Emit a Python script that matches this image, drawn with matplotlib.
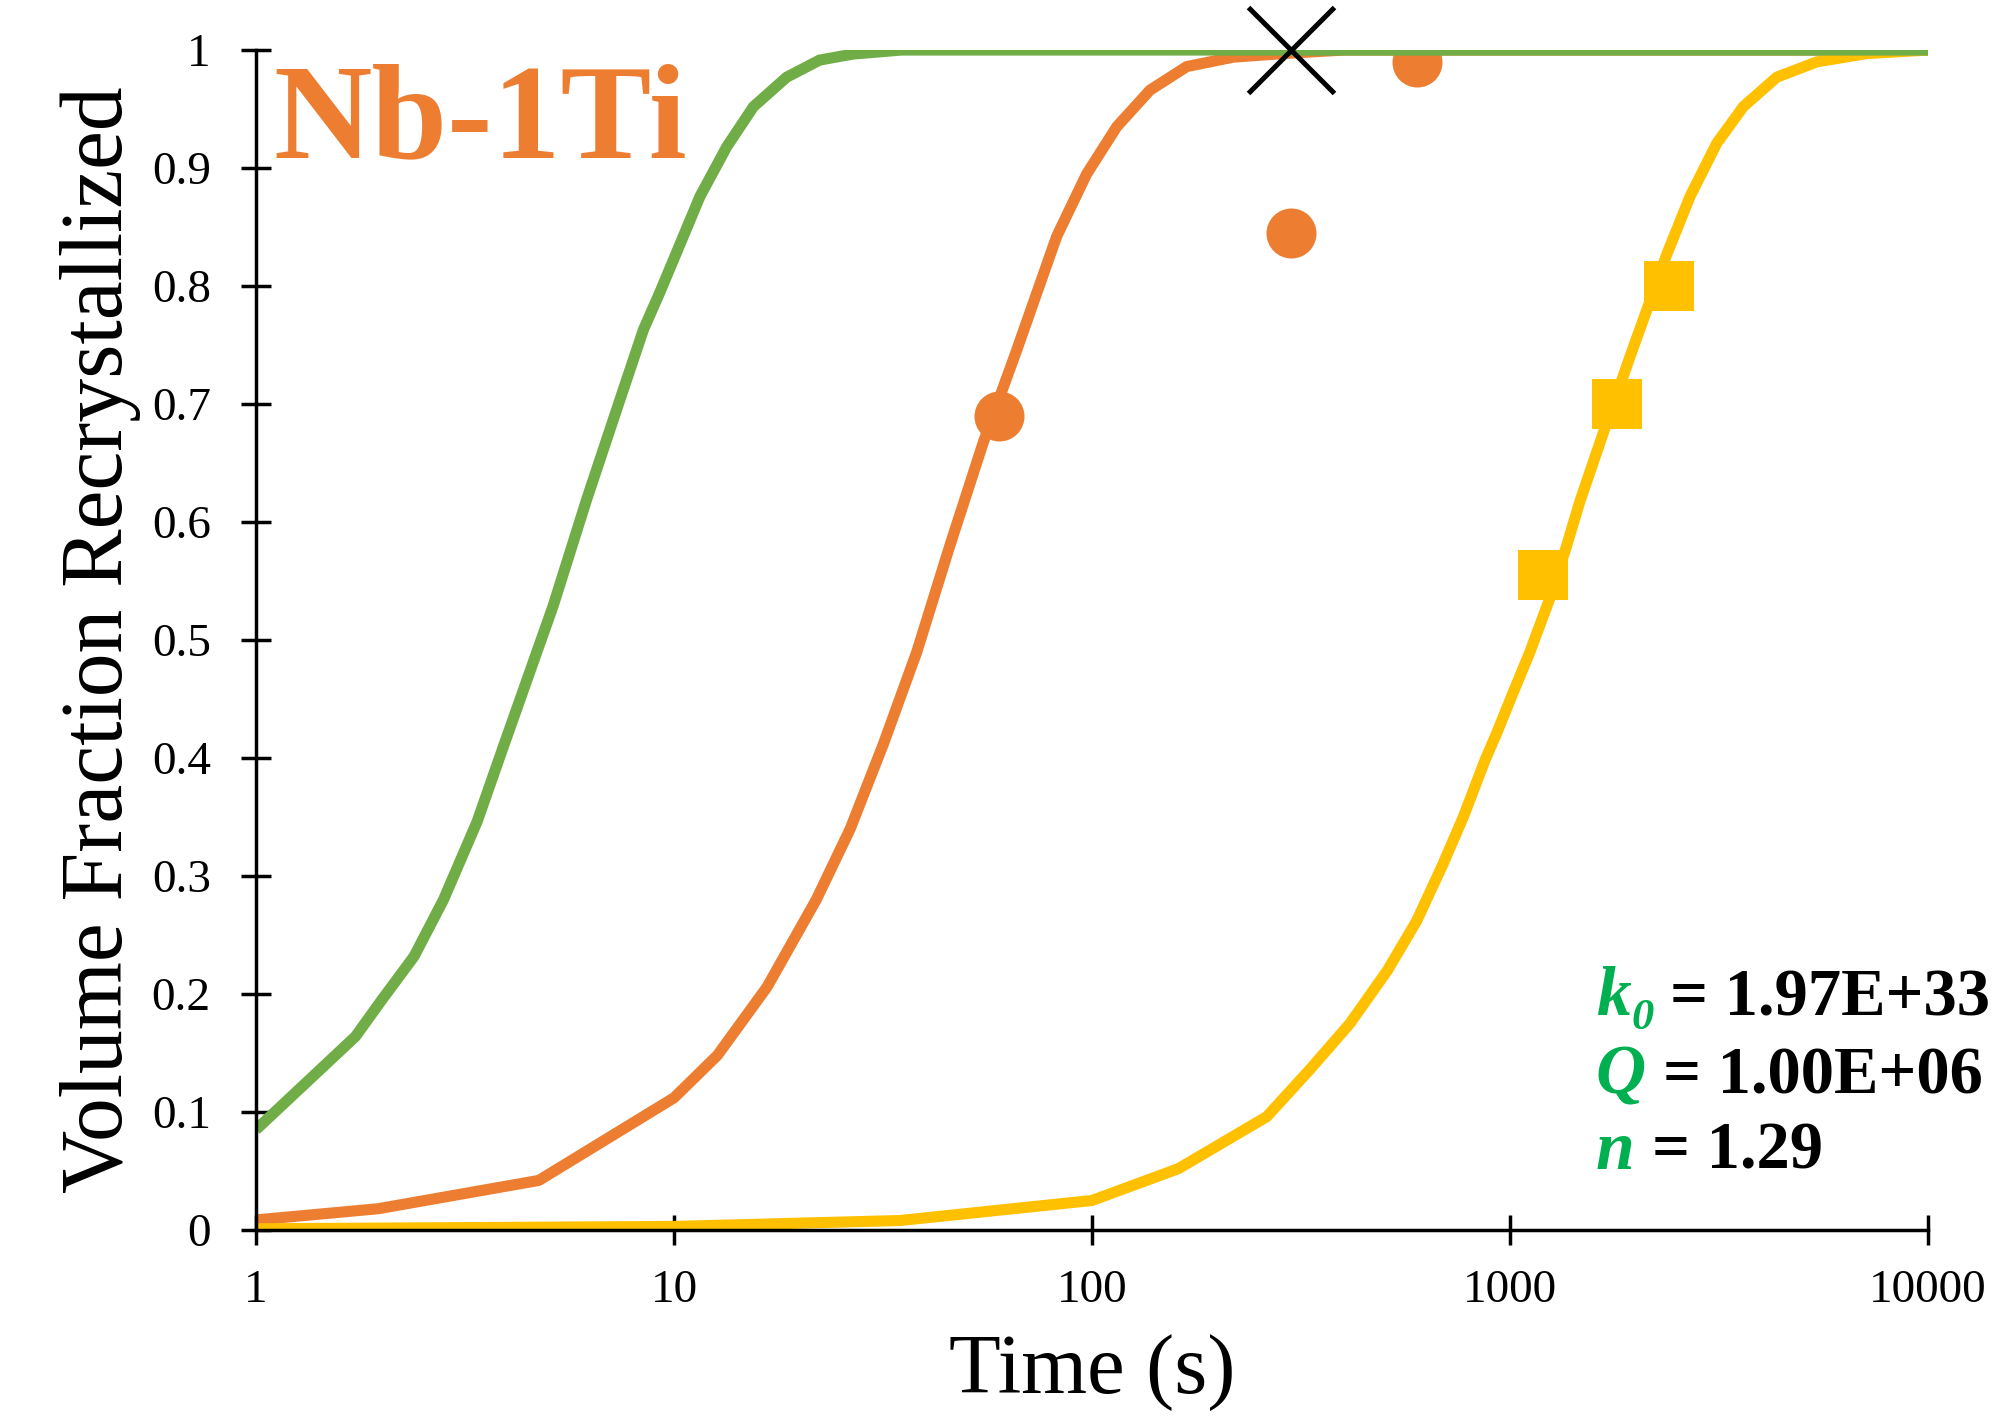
import numpy as np
import matplotlib
matplotlib.use("Agg")
import matplotlib.pyplot as plt

plt.rcParams['font.family'] = ['Liberation Serif', 'DejaVu Serif']

# curves (time in s, volume fraction)
t_green = [1, 1.73, 2.0, 2.39, 2.81, 3.38, 3.91, 5.14, 6.18, 7.43, 8.45, 9.26, 11.54, 13.37, 15.49, 18.6, 22.3, 26.8, 35, 10000]
f_green = [0.085, 0.164, 0.195, 0.232, 0.280, 0.346, 0.410, 0.529, 0.619, 0.704, 0.763, 0.795, 0.876, 0.918, 0.952, 0.977, 0.9915, 0.9966, 1.0, 1.0]

t_orange = [1, 1.96, 4.75, 10, 12.7, 16.7, 21.9, 26.4, 31.7, 38.1, 45.7, 55.0, 66.1, 82.3, 97.1, 114.6, 137.6, 168.5, 217.8, 286, 400, 10000]
f_orange = [0.0085, 0.018, 0.042, 0.112, 0.148, 0.206, 0.280, 0.340, 0.412, 0.490, 0.580, 0.668, 0.746, 0.842, 0.895, 0.935, 0.966, 0.986, 0.994, 0.997, 1.0, 1.0]

t_yellow = [1, 10, 34.7, 100, 161, 261.8, 332, 414, 509, 598, 691, 773, 871, 929, 1016, 1116, 1259, 1366, 1471, 1703,
            1972, 2372, 2696, 3123, 3614, 4346, 5419, 7129, 10000]
f_yellow = [0.001, 0.003, 0.008, 0.025, 0.052, 0.096, 0.136, 0.175, 0.220, 0.262, 0.310, 0.350, 0.398, 0.421, 0.455, 0.490, 0.540, 0.580, 0.618, 0.684,
            0.748, 0.827, 0.876, 0.921, 0.952, 0.977, 0.990, 0.997, 1.0]

# measured points
t_circ = [60, 300, 600]
f_circ = [0.69, 0.845, 0.99]
t_sq = [1200, 1800, 2400]
f_sq = [0.555, 0.70, 0.80]
t_x = [300]
f_x = [1.0]

xticks = [1, 10, 100, 1000, 10000]
yticks = [0, 0.1, 0.2, 0.3, 0.4, 0.5, 0.6, 0.7, 0.8, 0.9, 1]
ytick_labels = ['0', '0.1', '0.2', '0.3', '0.4', '0.5', '0.6', '0.7', '0.8', '0.9', '1']

params = [('k', '0', '= 1.97E+33'), ('Q', '', '= 1.00E+06'), ('n', '', '= 1.29')]

GREEN = '#70AD47'
ORANGE = '#ED7D31'
YELLOW = '#FFC000'
TXTGREEN = '#00B050'

fig = plt.figure(figsize=(19.92, 14.18), dpi=100)
ax = fig.add_axes([0.1285, 0.1326, 0.8394, 0.8321])

LW = 8
ax.plot(t_orange, f_orange, color=ORANGE, lw=LW, solid_capstyle='butt', solid_joinstyle='round', zorder=2)
ax.plot(t_yellow, f_yellow, color=YELLOW, lw=LW, solid_capstyle='butt', solid_joinstyle='round', zorder=2)
ax.plot(t_circ, f_circ, 'o', color=ORANGE, ms=36, mew=0, zorder=3)
ax.plot(t_sq, f_sq, 's', color=YELLOW, ms=36, mew=0, zorder=3)
ax.plot(t_green, f_green, color=GREEN, lw=LW, solid_capstyle='butt', solid_joinstyle='round', zorder=4)
ax.plot(t_x, f_x, 'x', color='black', ms=62, mew=3.6, zorder=5, clip_on=False)

ax.set_xscale('log')
ax.set_xlim(1, 10000)
ax.set_ylim(0, 1)
ax.set_xticks(xticks)
ax.set_xticklabels([str(v) for v in xticks])
ax.set_yticks(yticks)
ax.set_yticklabels(ytick_labels)
ax.minorticks_off()

for s in ['top', 'right']:
    ax.spines[s].set_visible(False)
for s in ['left', 'bottom']:
    ax.spines[s].set_linewidth(2.5)
    ax.spines[s].set_zorder(6)
ax.tick_params(axis='both', direction='inout', length=21, width=2.5, labelsize=34)
ax.tick_params(axis='y', pad=22)
ax.tick_params(axis='x', pad=18)

ax.set_xlabel('Time (s)', fontsize=61, labelpad=16)
ax.set_ylabel('Volume Fraction Recrystallized', fontsize=63, labelpad=8)

ax.text(0.0106, 0.909, 'Nb-1Ti', transform=ax.transAxes, fontsize=98,
        fontweight='bold', color=ORANGE, va='baseline', ha='left')

# fitted parameters block
base_y = [0.182, 0.116, 0.0517]
eq_x = [0.8454, 0.8412, 0.835]
for (sym, sub, val), y, xe in zip(params, base_y, eq_x):
    ax.text(0.8014, y, sym, transform=ax.transAxes, fontsize=50, fontweight='bold',
            style='italic', color=TXTGREEN, va='baseline', clip_on=False)
    if sub:
        ax.text(0.8224, y - 0.012, sub, transform=ax.transAxes, fontsize=32, fontweight='bold',
                style='italic', color=TXTGREEN, va='baseline', clip_on=False)
    ax.text(xe, y, val, transform=ax.transAxes, fontsize=48, fontweight='bold',
            color='black', va='baseline', clip_on=False)

fig.savefig('out.png', dpi=100)
